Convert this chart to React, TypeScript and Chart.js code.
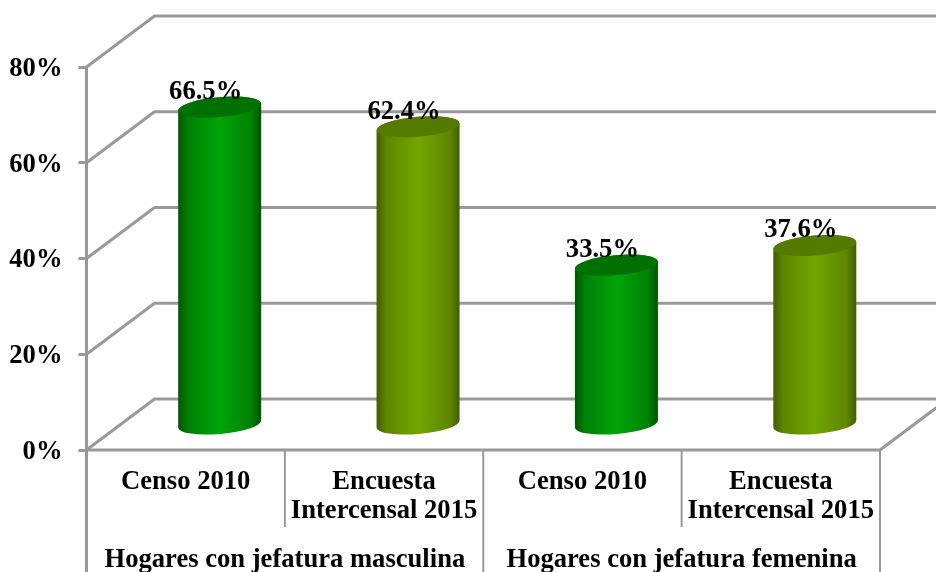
import React, { useEffect, useRef } from "react";
import { Chart, BarController, BarElement, CategoryScale, LinearScale } from "chart.js";

const categories = [
  "Censo 2010",
  ["Encuesta", "Intercensal 2015"],
  "Censo 2010",
  ["Encuesta", "Intercensal 2015"],
];
const groupLabels = ["Hogares con jefatura masculina", "Hogares con jefatura femenina"];
const values = [66.5, 62.4, 33.5, 37.6];
const yTicks = { min: 0, max: 80, step: 20 };

const FONT = "'Liberation Serif', 'Times New Roman', serif";
const FONT_SIZE = 26.6;
const GRID = "#999999";
const GRID_W = 3;
const DEPTH_X = 68;
const DEPTH_Y = -51;
const BAR_SHIFT_Y = -24.5;
const TILT = (-5 * Math.PI) / 180;
const RY = 10;

const GREEN = { edge: "#005400", near: "#008004", mid: "#00a508", top: "#007000" };
const OLIVE = { edge: "#435c00", near: "#5e8600", mid: "#72a500", top: "#557a00" };
const barStyles = [GREEN, OLIVE, GREEN, OLIVE];

class CylinderElement extends BarElement {
  static id = "cylinder";
  draw(ctx: CanvasRenderingContext2D) {
    const { x, y, base, width } = (this as any).getProps(["x", "y", "base", "width"], true);
    const style = barStyles[(this as any).$context.dataIndex];
    const cx = x + DEPTH_X / 2;
    const top = y + BAR_SHIFT_Y;
    const bottom = base + BAR_SHIFT_Y;
    const rx = width / 2;
    const g = ctx.createLinearGradient(cx - rx, 0, cx + rx, 0);
    g.addColorStop(0, style.edge);
    g.addColorStop(0.12, style.near);
    g.addColorStop(0.5, style.mid);
    g.addColorStop(0.88, style.near);
    g.addColorStop(1, style.edge);
    ctx.save();
    ctx.beginPath();
    ctx.ellipse(cx, top, rx, RY, TILT, Math.PI, 2 * Math.PI, false);
    ctx.ellipse(cx, bottom, rx, RY, TILT, 0, Math.PI, false);
    ctx.closePath();
    ctx.fillStyle = g;
    ctx.fill();
    ctx.beginPath();
    ctx.ellipse(cx, top, rx, RY, TILT, 0, 2 * Math.PI);
    ctx.fillStyle = style.top;
    ctx.fill();
    ctx.restore();
  }
}

class CylinderController extends BarController {
  static id = "cylinder";
  static defaults = { ...(BarController as any).defaults, dataElementType: "cylinder" };
  static overrides = (BarController as any).overrides;
}

Chart.register(CylinderController as any, CylinderElement as any, CategoryScale, LinearScale);

const wallPlugin = {
  id: "wall",
  beforeDatasetsDraw(chart: any) {
    const { ctx, chartArea: a, scales } = chart;
    const y = scales.y;
    const h = chart.height;
    ctx.save();
    ctx.strokeStyle = GRID;
    ctx.lineWidth = GRID_W;
    ctx.lineJoin = "miter";
    for (let v = yTicks.min; v <= yTicks.max; v += yTicks.step) {
      const py = y.getPixelForValue(v);
      ctx.beginPath();
      ctx.moveTo(a.left, py);
      ctx.lineTo(a.left + DEPTH_X, py + DEPTH_Y);
      ctx.lineTo(a.right + DEPTH_X, py + DEPTH_Y);
      ctx.stroke();
    }
    const py0 = y.getPixelForValue(0);
    ctx.beginPath();
    ctx.moveTo(a.left, py0);
    ctx.lineTo(a.right, py0);
    ctx.lineTo(a.right + DEPTH_X, py0 + DEPTH_Y);
    ctx.stroke();
    ctx.beginPath();
    ctx.moveTo(a.left, a.top);
    ctx.lineTo(a.left, h);
    ctx.stroke();
    // category and group separators
    const band = (a.right - a.left) / categories.length;
    ctx.lineWidth = 2;
    categories.forEach((_, i) => {
      const px = a.left + band * (i + 1);
      ctx.beginPath();
      ctx.moveTo(px, py0);
      ctx.lineTo(px, i % 2 === 0 ? py0 + 77 : h);
      ctx.stroke();
    });
    ctx.restore();
  },
};

const labelPlugin = {
  id: "valueLabels",
  afterDatasetsDraw(chart: any) {
    const { ctx } = chart;
    const meta = chart.getDatasetMeta(0);
    ctx.save();
    ctx.font = `bold ${FONT_SIZE}px ${FONT}`;
    ctx.fillStyle = "#000";
    ctx.textAlign = "center";
    ctx.textBaseline = "middle";
    meta.data.forEach((el: any, i: number) => {
      ctx.fillText(`${values[i].toFixed(1)}%`, el.x + DEPTH_X / 2 - 14, el.y + DEPTH_Y / 2 - 14);
    });
    ctx.restore();
  },
};

export default function App() {
  const ref = useRef<HTMLCanvasElement>(null);
  useEffect(() => {
    const tickFont = { family: FONT, size: FONT_SIZE, weight: "bold" as const, lineHeight: 1.11 };
    const chart = new Chart(ref.current!, {
      type: "cylinder" as any,
      data: {
        labels: categories as any,
        datasets: [
          {
            data: values,
            categoryPercentage: 0.42,
            barPercentage: 1,
            backgroundColor: barStyles.map((s) => s.mid),
          } as any,
        ],
      },
      plugins: [wallPlugin, labelPlugin],
      options: {
        animation: false,
        responsive: false,
        layout: { padding: { top: 67, right: 56, left: 0, bottom: 0 } },
        plugins: { legend: { display: false }, title: { display: false }, tooltip: { enabled: false } },
        scales: {
          y: {
            type: "linear",
            min: yTicks.min,
            max: yTicks.max,
            afterFit: (s: any) => { s.width = 86.5; },
            ticks: {
              stepSize: yTicks.step,
              color: "#000",
              font: tickFont,
              padding: 16,
              labelOffset: 2,
              callback: (v: any) => `${v}%`,
            },
            grid: { drawOnChartArea: false, drawTicks: true, tickLength: 8, color: GRID, lineWidth: GRID_W },
            border: { display: false },
          },
          x: {
            type: "category",
            position: "bottom",
            weight: 0,
            afterFit: (s: any) => { s.height = 78; },
            ticks: { color: "#000", font: tickFont, maxRotation: 0, autoSkip: false, padding: 17 },
            grid: { display: false, drawTicks: false },
            border: { display: false },
          },
          x2: {
            type: "category",
            axis: "x",
            position: "bottom",
            weight: 1,
            labels: groupLabels,
            offset: true,
            afterFit: (s: any) => { s.height = 44; },
            ticks: { color: "#000", font: tickFont, maxRotation: 0, autoSkip: false, padding: 17 },
            grid: { display: false, drawTicks: false },
            border: { display: false },
          },
        },
      } as any,
    });
    return () => chart.destroy();
  }, []);
  return (
    <div style={{ position: "absolute", left: 0, top: 0, width: 936, height: 572, background: "#fff", overflow: "hidden" }}>
      <canvas ref={ref} width={936} height={572} style={{ display: "block" }} />
    </div>
  );
}
